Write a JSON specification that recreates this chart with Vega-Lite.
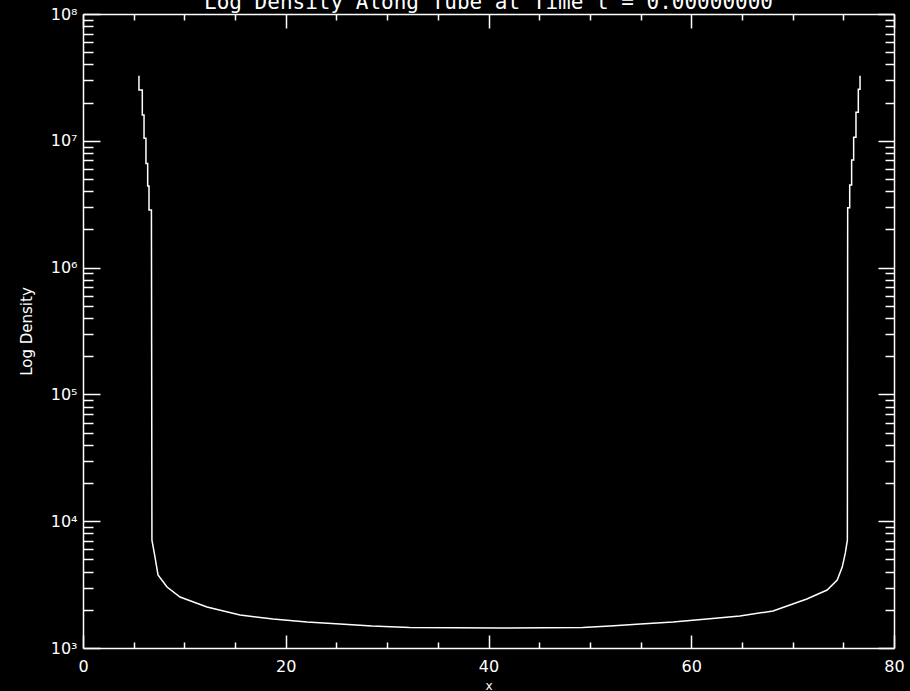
{
  "$schema": "https://vega.github.io/schema/vega-lite/v6.json",
  "width": 811,
  "height": 634,
  "autosize": {"type": "none"},
  "padding": {"left": 83, "top": 14, "right": 16, "bottom": 43},
  "background": "black",
  "config": {
    "view": {"stroke": null},
    "axis": {
      "grid": false,
      "domainColor": "white",
      "domainWidth": 1.5,
      "tickColor": "white",
      "tickWidth": 1.5,
      "labelColor": "white",
      "titleColor": "white",
      "labelFont": "DejaVu Sans",
      "titleFont": "DejaVu Sans",
      "titleFontWeight": "normal"
    }
  },
  "title": {
    "text": "Log Density Along Tube at Time t = 0.00000000",
    "color": "white",
    "font": "DejaVu Sans Mono",
    "fontSize": 21,
    "fontWeight": "normal",
    "anchor": "middle",
    "baseline": "bottom",
    "offset": -28,
    "frame": "group"
  },
  "data": {
    "values": [
      {"i": 0, "x": 5.52, "rho": 32600000},
      {"i": 1, "x": 5.52, "rho": 25100000},
      {"i": 2, "x": 5.85, "rho": 25100000},
      {"i": 3, "x": 5.85, "rho": 15960000},
      {"i": 4, "x": 6.02, "rho": 15960000},
      {"i": 5, "x": 6.02, "rho": 10470000},
      {"i": 6, "x": 6.21, "rho": 10470000},
      {"i": 7, "x": 6.21, "rho": 6610000},
      {"i": 8, "x": 6.38, "rho": 6610000},
      {"i": 9, "x": 6.38, "rho": 4410000},
      {"i": 10, "x": 6.51, "rho": 4410000},
      {"i": 11, "x": 6.51, "rho": 2840000},
      {"i": 12, "x": 6.75, "rho": 2840000},
      {"i": 13, "x": 6.8, "rho": 7079},
      {"i": 14, "x": 7.1, "rho": 5224},
      {"i": 15, "x": 7.4, "rho": 3767},
      {"i": 16, "x": 8.29, "rho": 3027},
      {"i": 17, "x": 9.57, "rho": 2523},
      {"i": 18, "x": 12.23, "rho": 2104},
      {"i": 19, "x": 15.49, "rho": 1820},
      {"i": 20, "x": 18.74, "rho": 1690},
      {"i": 21, "x": 22.1, "rho": 1603},
      {"i": 22, "x": 25.35, "rho": 1549},
      {"i": 23, "x": 28.5, "rho": 1490},
      {"i": 24, "x": 32.2, "rho": 1450},
      {"i": 25, "x": 41.0, "rho": 1439},
      {"i": 26, "x": 49.3, "rho": 1450},
      {"i": 27, "x": 52.0, "rho": 1490},
      {"i": 28, "x": 55.0, "rho": 1549},
      {"i": 29, "x": 58.2, "rho": 1603},
      {"i": 30, "x": 61.55, "rho": 1690},
      {"i": 31, "x": 64.8, "rho": 1786},
      {"i": 32, "x": 68.07, "rho": 1959},
      {"i": 33, "x": 71.4, "rho": 2432},
      {"i": 34, "x": 73.4, "rho": 2864},
      {"i": 35, "x": 74.4, "rho": 3436},
      {"i": 36, "x": 74.9, "rho": 4365},
      {"i": 37, "x": 75.2, "rho": 5623},
      {"i": 38, "x": 75.4, "rho": 7079},
      {"i": 39, "x": 75.43, "rho": 2970000},
      {"i": 40, "x": 75.63, "rho": 2970000},
      {"i": 41, "x": 75.63, "rho": 4480000},
      {"i": 42, "x": 75.82, "rho": 4480000},
      {"i": 43, "x": 75.82, "rho": 7060000},
      {"i": 44, "x": 76.02, "rho": 7060000},
      {"i": 45, "x": 76.02, "rho": 10670000},
      {"i": 46, "x": 76.25, "rho": 10670000},
      {"i": 47, "x": 76.25, "rho": 16790000},
      {"i": 48, "x": 76.48, "rho": 16790000},
      {"i": 49, "x": 76.48, "rho": 25470000},
      {"i": 50, "x": 76.65, "rho": 25470000},
      {"i": 51, "x": 76.65, "rho": 32600000}
    ]
  },
  "layer": [
    {
      "mark": {"type": "line", "color": "white", "strokeWidth": 1.5, "clip": true},
      "encoding": {
        "x": {
          "field": "x", "type": "quantitative",
          "scale": {"domain": [0, 80], "nice": false, "zero": false},
          "axis": {
            "orient": "bottom",
            "title": "x",
            "titleFontSize": 12,
            "titlePadding": 6,
            "values": [0, 5, 10, 15, 20, 25, 30, 35, 40, 45, 50, 55, 60, 65, 70, 75, 80],
            "labelExpr": "datum.value % 20 == 0 ? datum.label : ''",
            "labelFontSize": 16,
            "labelPadding": 23,
            "labelFlush": false,
            "tickSize": {"condition": {"test": "datum.value % 20 == 0", "value": -13}, "value": -6}
          }
        },
        "y": {
          "field": "rho", "type": "quantitative",
          "scale": {"type": "log", "domain": [1000, 100000000], "nice": false},
          "axis": {
            "orient": "left",
            "title": "Log Density",
            "titleFontSize": 15,
            "titlePadding": 16,
            "values": [1000, 2000, 3000, 4000, 5000, 6000, 7000, 8000, 9000, 10000, 20000, 30000, 40000, 50000, 60000, 70000, 80000, 90000, 100000, 200000, 300000, 400000, 500000, 600000, 700000, 800000, 900000, 1000000, 2000000, 3000000, 4000000, 5000000, 6000000, 7000000, 8000000, 9000000, 10000000, 20000000, 30000000, 40000000, 50000000, 60000000, 70000000, 80000000, 90000000, 100000000],
            "labelExpr": "datum.value == 1000 ? '10³' : datum.value == 10000 ? '10⁴' : datum.value == 100000 ? '10⁵' : datum.value == 1000000 ? '10⁶' : datum.value == 10000000 ? '10⁷' : datum.value == 100000000 ? '10⁸' : ''",
            "labelFontSize": 16,
            "labelPadding": 23,
            "labelFlush": false,
            "tickSize": {"condition": {"test": "datum.value == 1000 || datum.value == 10000 || datum.value == 100000 || datum.value == 1000000 || datum.value == 10000000 || datum.value == 100000000", "value": -17}, "value": -10}
          }
        },
        "order": {"field": "i", "type": "quantitative"}
      }
    },
    {
      "mark": {"type": "line", "opacity": 0},
      "encoding": {
        "x": {
          "field": "x", "type": "quantitative",
          "scale": {"domain": [0, 80], "nice": false, "zero": false},
          "axis": {
            "orient": "top",
            "title": null,
            "labels": false,
            "values": [0, 5, 10, 15, 20, 25, 30, 35, 40, 45, 50, 55, 60, 65, 70, 75, 80],
            "tickSize": {"condition": {"test": "datum.value % 20 == 0", "value": -14}, "value": -6}
          }
        },
        "y": {
          "field": "rho", "type": "quantitative",
          "scale": {"type": "log", "domain": [1000, 100000000], "nice": false},
          "axis": {
            "orient": "right",
            "title": null,
            "labels": false,
            "values": [1000, 2000, 3000, 4000, 5000, 6000, 7000, 8000, 9000, 10000, 20000, 30000, 40000, 50000, 60000, 70000, 80000, 90000, 100000, 200000, 300000, 400000, 500000, 600000, 700000, 800000, 900000, 1000000, 2000000, 3000000, 4000000, 5000000, 6000000, 7000000, 8000000, 9000000, 10000000, 20000000, 30000000, 40000000, 50000000, 60000000, 70000000, 80000000, 90000000, 100000000],
            "tickSize": {"condition": {"test": "datum.value == 1000 || datum.value == 10000 || datum.value == 100000 || datum.value == 1000000 || datum.value == 10000000 || datum.value == 100000000", "value": -16}, "value": -9}
          }
        },
        "order": {"field": "i", "type": "quantitative"}
      }
    }
  ],
  "resolve": {"axis": {"x": "independent", "y": "independent"}}
}
